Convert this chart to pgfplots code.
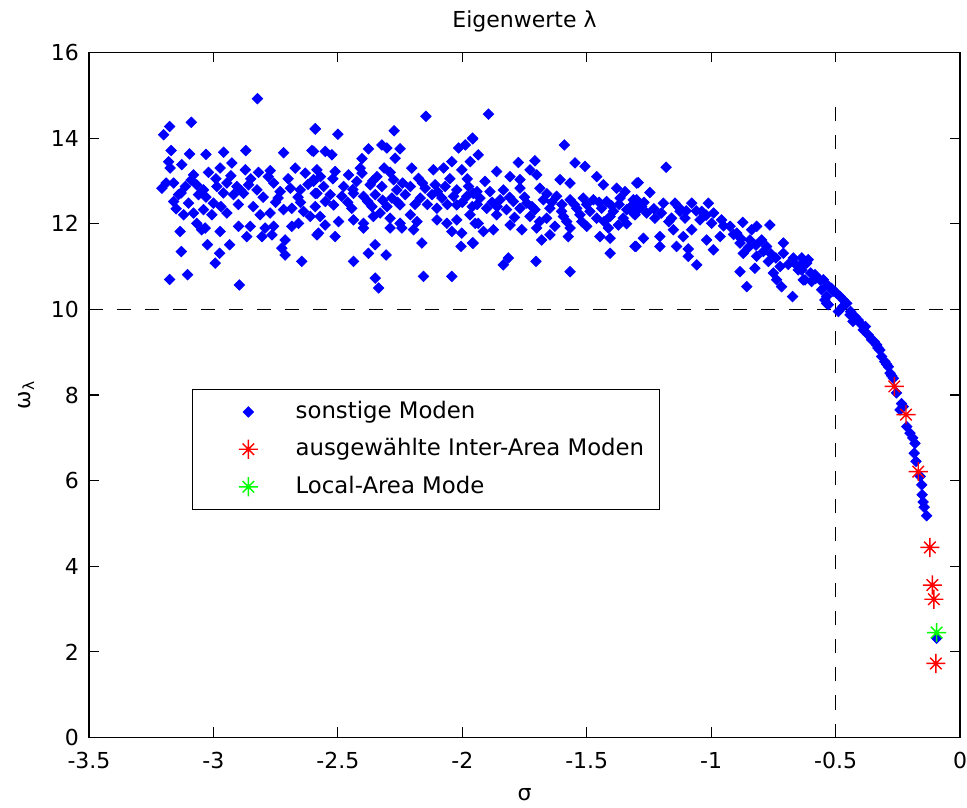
\documentclass[border=0pt]{standalone}
\usepackage{fontspec}
\setmainfont{DejaVu Sans}
\usepackage{pgfplots}
\usepackage{pgfplotstable}
\pgfplotsset{compat=1.18}
\usetikzlibrary{calc}

\pgfdeclareplotmark{mdiam}{%
  \pgfpathmoveto{\pgfqpoint{0pt}{\pgfplotmarksize}}%
  \pgfpathlineto{\pgfqpoint{\pgfplotmarksize}{0pt}}%
  \pgfpathlineto{\pgfqpoint{0pt}{-\pgfplotmarksize}}%
  \pgfpathlineto{\pgfqpoint{-\pgfplotmarksize}{0pt}}%
  \pgfpathclose
  \pgfusepathqfillstroke}
\pgfdeclareplotmark{mstar}{%
  \pgfpathmoveto{\pgfqpoint{-\pgfplotmarksize}{0pt}}\pgfpathlineto{\pgfqpoint{\pgfplotmarksize}{0pt}}%
  \pgfpathmoveto{\pgfqpoint{0pt}{-\pgfplotmarksize}}\pgfpathlineto{\pgfqpoint{0pt}{\pgfplotmarksize}}%
  \pgfpathmoveto{\pgfqpoint{-.6\pgfplotmarksize}{-.6\pgfplotmarksize}}\pgfpathlineto{\pgfqpoint{.6\pgfplotmarksize}{.6\pgfplotmarksize}}%
  \pgfpathmoveto{\pgfqpoint{-.6\pgfplotmarksize}{.6\pgfplotmarksize}}\pgfpathlineto{\pgfqpoint{.6\pgfplotmarksize}{-.6\pgfplotmarksize}}%
  \pgfusepathqstroke}

\definecolor{mblue}{RGB}{0,0,255}
\definecolor{mred}{RGB}{255,0,0}
\definecolor{mgreen}{RGB}{0,255,0}

\pgfplotstableread{
x y
-2.823 14.92
-3.176 14.27
-3.200 14.08
-3.089 14.37
-2.591 14.22
-3.170 13.71
-3.096 13.63
-3.030 13.62
-2.959 13.67
-2.870 13.71
-2.718 13.66
-2.604 13.71
-3.180 13.45
-3.174 13.30
-3.127 13.38
-3.080 13.14
-3.020 13.20
-2.973 13.30
-2.926 13.42
-2.872 13.26
-2.819 13.20
-2.772 13.24
-2.671 13.30
-2.631 13.18
-3.207 12.83
-3.160 12.95
-3.113 12.87
-3.067 12.91
-3.040 12.79
-2.986 12.87
-2.946 12.95
-2.906 12.87
-2.859 12.91
-2.825 12.79
-2.919 12.68
-2.879 12.71
-2.758 12.95
-2.732 12.75
-2.691 12.83
-2.651 12.79
-2.598 13.03
-2.591 12.71
-3.140 12.68
-3.160 12.52
-3.100 12.48
-3.060 12.68
-3.000 12.48
-3.120 12.21
-3.080 12.25
-3.040 12.33
-3.006 12.21
-2.946 12.25
-2.812 12.21
-2.772 12.25
-2.718 12.33
-2.685 12.36
-2.638 12.29
-2.611 12.17
-3.067 12.01
-3.047 11.86
-3.134 11.82
-3.033 11.90
-2.973 11.82
-2.899 11.94
-2.852 11.94
-2.792 11.90
-2.758 11.94
-2.685 11.94
-2.658 12.01
-2.584 11.74
-2.866 11.70
-2.805 11.70
-2.765 11.74
-2.712 11.62
-3.024 11.51
-2.935 11.51
-3.129 11.35
-2.975 11.31
-2.993 11.08
-2.725 11.43
-2.712 11.27
-2.645 11.12
-3.176 10.70
-3.104 10.81
-2.896 10.57
-2.591 14.21
-2.500 14.09
-2.274 14.17
-2.146 14.51
-2.377 13.75
-2.403 13.52
-2.323 13.84
-2.303 13.77
-2.250 13.75
-2.270 13.53
-2.598 13.69
-2.551 13.69
-2.524 13.61
-2.015 13.77
-1.988 13.84
-1.959 14.00
-1.968 13.45
-2.042 13.45
-2.314 13.30
-2.203 13.30
-2.116 13.26
-2.075 13.30
-2.002 13.26
-2.584 13.26
-2.511 13.22
-2.457 13.14
-2.403 13.18
-2.343 13.10
-2.276 13.03
-2.176 13.06
-2.598 12.99
-2.557 12.87
-2.477 12.87
-2.424 12.99
-2.370 12.91
-2.323 12.87
-2.263 12.79
-2.209 12.87
-2.149 12.83
-2.109 12.91
-2.069 12.87
-2.022 12.79
-1.975 12.87
-1.941 12.75
-2.584 12.71
-2.531 12.68
-2.484 12.64
-2.437 12.71
-2.397 12.64
-2.350 12.68
-2.283 12.60
-2.229 12.68
-2.169 12.60
-2.122 12.68
-2.082 12.60
-2.035 12.64
-1.982 12.64
-2.591 12.40
-2.517 12.44
-2.444 12.36
-2.363 12.40
-2.303 12.40
-2.250 12.44
-2.102 12.36
-2.022 12.44
-2.571 12.17
-2.497 12.05
-2.437 12.09
-2.397 12.01
-2.357 12.17
-2.330 12.25
-2.290 12.13
-2.250 12.01
-2.209 12.21
-2.182 12.05
-2.102 12.09
-2.062 12.01
-2.022 12.09
-1.948 12.01
-2.551 11.97
-2.290 11.90
-2.243 11.90
-2.196 11.86
-2.042 11.82
-2.002 11.78
-2.578 11.78
-2.511 11.70
-2.397 11.90
-2.162 11.55
-2.005 11.47
-1.959 11.55
-2.350 11.51
-2.377 11.31
-2.306 11.27
-2.437 11.12
-2.350 10.73
-2.336 10.50
-2.156 10.77
-2.042 10.77
-1.895 14.56
-1.958 13.98
-1.590 13.84
-1.936 13.61
-1.775 13.43
-1.708 13.47
-1.728 13.26
-1.547 13.42
-1.507 13.34
-1.862 13.22
-1.808 13.10
-1.701 13.14
-1.607 13.03
-1.460 13.10
-1.909 12.99
-1.768 13.03
-1.567 12.95
-1.433 12.91
-1.299 12.95
-1.956 12.71
-1.889 12.75
-1.835 12.79
-1.768 12.83
-1.688 12.83
-1.380 12.83
-1.346 12.75
-1.929 12.60
-1.848 12.56
-1.795 12.52
-1.741 12.48
-1.674 12.56
-1.621 12.64
-1.567 12.56
-1.514 12.60
-1.473 12.56
-1.420 12.52
-1.366 12.60
-1.313 12.56
-1.902 12.36
-1.822 12.33
-1.768 12.36
-1.708 12.33
-1.648 12.36
-1.601 12.29
-1.540 12.36
-1.487 12.29
-1.440 12.36
-1.393 12.29
-1.339 12.33
-1.969 12.21
-1.862 12.21
-1.728 12.17
-1.661 12.13
-1.594 12.17
-1.527 12.21
-1.460 12.13
-1.406 12.17
-1.353 12.13
-1.306 12.21
-1.936 12.01
-1.808 11.97
-1.761 11.86
-1.701 11.90
-1.628 11.94
-1.567 11.90
-1.500 11.94
-1.413 11.90
-1.373 11.97
-1.915 11.82
-1.875 11.86
-1.648 11.74
-1.574 11.70
-1.447 11.70
-1.406 11.66
-1.681 11.62
-1.956 11.55
-1.306 11.47
-1.406 11.31
-1.815 11.20
-1.835 11.04
-1.704 11.12
-1.567 10.88
-1.181 13.32
-1.293 12.96
-1.246 12.73
-1.299 12.56
-1.279 12.40
-1.313 12.25
-1.259 12.25
-1.226 12.13
-1.192 12.48
-1.145 12.48
-1.125 12.29
-1.078 12.48
-1.011 12.48
-1.038 12.29
-1.159 12.13
-1.105 12.13
-1.045 12.09
-0.998 12.01
-0.958 12.09
-0.924 11.94
-1.152 11.86
-1.078 11.86
-1.272 11.66
-1.206 11.70
-1.112 11.70
-1.018 11.62
-0.964 11.70
-0.897 11.78
-0.873 12.03
-0.837 11.86
-0.817 11.94
-0.764 11.97
-1.302 11.47
-1.206 11.47
-1.139 11.47
-1.092 11.41
-0.884 11.55
-0.844 11.62
-0.797 11.62
-0.777 11.47
-1.092 11.24
-0.991 11.39
-0.871 11.31
-0.817 11.24
-0.770 11.12
-0.710 11.55
-0.710 11.31
-0.670 11.20
-0.636 11.20
-0.616 11.08
-1.058 11.04
-0.884 10.88
-0.824 10.96
-0.750 10.85
-0.723 11.00
-0.650 10.92
-0.630 10.69
-0.583 10.81
-0.549 10.69
-0.857 10.53
-0.717 10.53
-0.673 10.30
-0.556 10.46
-0.536 10.30
-0.536 10.14
-0.596 10.65
-0.737 10.69
-0.630 11.08
-0.623 10.69
-0.610 11.16
-0.636 10.92
-0.563 10.69
-0.516 10.49
-0.496 10.38
-0.482 10.30
-0.469 10.22
-0.455 10.14
-0.543 10.22
-0.529 10.11
-0.489 9.95
-0.442 9.87
-0.422 9.83
-0.409 9.75
-0.402 9.68
-0.389 9.52
-0.368 9.40
-0.355 9.29
-0.335 9.17
-0.322 9.05
-0.315 8.90
-0.302 8.78
-0.288 8.66
-0.281 8.51
-0.268 8.39
-0.228 7.73
-0.241 7.65
-0.214 7.26
-0.201 7.11
-0.181 6.87
-0.184 6.64
-0.177 6.45
-0.154 5.90
-0.152 5.67
-0.144 5.38
-0.134 5.18
-0.094 2.32
-3.19 12.95
-3.13 12.72
-3.09 13.02
-3.03 12.62
-2.99 13.05
-2.96 12.72
-2.93 13.12
-2.89 12.78
-2.85 13.05
-2.80 12.62
-2.78 13.10
-2.74 12.60
-2.70 13.05
-2.66 12.62
-2.62 12.92
-2.57 13.10
-3.15 12.35
-2.97 12.40
-2.90 12.45
-2.84 12.40
-2.75 12.50
-2.65 12.50
-2.55 12.52
-2.52 13.05
-2.46 12.50
-2.44 12.80
-2.41 13.30
-2.38 12.52
-2.36 13.00
-2.32 12.55
-2.29 13.20
-2.26 12.50
-2.24 12.95
-2.19 12.45
-2.16 12.95
-2.14 12.45
-2.10 12.75
-2.06 12.45
-2.05 13.05
-2.00 12.50
-1.98 13.05
-1.96 12.40
-1.94 12.45
-1.88 12.50
-1.86 12.40
-1.81 12.62
-1.79 12.15
-1.75 12.62
-1.72 12.40
-1.69 12.05
-1.66 12.70
-1.64 12.50
-1.60 12.45
-1.58 12.05
-1.55 12.45
-1.52 12.05
-1.50 12.45
-1.45 12.50
-1.43 12.05
-1.40 12.42
-1.37 12.45
-1.34 12.00
-1.32 12.42
-1.29 12.35
-1.27 12.50
-1.23 12.35
-1.20 12.25
-1.17 12.05
-1.13 12.38
-1.10 12.30
-1.06 12.30
-1.02 12.20
-0.99 12.25
-0.95 11.95
-0.91 11.75
-0.88 11.65
-0.85 11.45
-0.82 11.50
-0.79 11.35
-0.76 11.30
-0.74 11.20
-0.69 11.05
-0.66 11.05
-0.64 10.98
-0.60 10.85
-0.58 10.72
-0.53 10.55
-0.51 10.42
-0.47 10.07
-0.44 9.95
-0.43 9.72
-0.38 9.60
-0.345 9.25
-0.33 9.10
-0.295 8.72
-0.275 8.45
-0.255 8.05
-0.235 7.80
-0.19 7.00
-0.16 6.10
-0.148 5.50
}\sonstige

\pgfplotstableread{
x y
-0.264 8.20
-0.217 7.54
-0.168 6.21
-0.121 4.44
-0.111 3.56
-0.105 3.23
-0.097 1.73
}\interarea

\pgfplotstableread{
x y
-0.094 2.45
}\localarea

\begin{document}
\begin{tikzpicture}
\begin{axis}[
  scale only axis,
  width=435.5pt, height=342.5pt,
  xmin=-3.5, xmax=0, ymin=0, ymax=16,
  xtick={-3.5,-3,-2.5,-2,-1.5,-1,-0.5,0},
  ytick={0,2,4,6,8,10,12,14,16},
  tick align=inside,
  major tick length=5pt,
  tick style={black, line width=0.6pt},
  axis line style={black, line width=0.6pt},
  font=\fontsize{11}{13}\selectfont,
  /pgf/number format/assume math mode=true,
  /pgf/number format/fixed,
  xticklabel style={anchor=base, yshift=-15.25pt},
  yticklabel style={anchor=east, inner sep=0pt, xshift=-4.85pt},
  title={Eigenwerte λ},
  title style={at={(axis description cs:0.5,1)}, anchor=base, yshift=6.25pt, inner sep=0pt},
  xlabel={σ},
  xlabel style={at={(axis description cs:0.5,0)}, anchor=base, yshift=-31.25pt, inner sep=0pt},
  ylabel={ω\textsubscript{λ}},
  ylabel style={at={(axis description cs:-0.0677,0.5)}, anchor=base, inner sep=0pt},
  legend cell align=left,
  legend image code/.code={%
    \path[draw=none,fill=none] (-20.5pt,0pt) -- (23.65pt,0pt);
    \draw[#1] plot coordinates {(0pt,0pt)};},
  legend style={at={(axis cs:-3.087,8.14)}, anchor=north west,
    draw=black, line width=0.6pt, fill=white,
    inner xsep=7.5pt, inner ysep=6.5pt,
    nodes={inner sep=0pt, text height=7.8pt, text depth=1.5pt,
      font=\fontsize{11.4}{13}\selectfont},
    row sep=9.2pt},
]
\addplot[only marks, mark=mdiam, mark size=2.6pt, color=mblue,
  mark options={line width=0.4pt, fill=mblue}] table[x=x,y=y] {\sonstige};
\addlegendentry{sonstige Moden}
\addplot[only marks, mark=mstar, mark size=4.8pt, color=mred,
  mark options={line width=0.7pt}] table[x=x,y=y] {\interarea};
\addlegendentry{ausgewählte Inter-Area Moden}
\addplot[only marks, mark=mstar, mark size=4.8pt, color=mgreen,
  mark options={line width=0.7pt}] table[x=x,y=y] {\localarea};
\addlegendentry{Local-Area Mode}
\addplot[black, line width=0.8pt, dash pattern=on 7pt off 7pt, forget plot]
  coordinates {(-3.5,10) (0,10)};
\addplot[black, line width=0.8pt, dash pattern=on 7pt off 7pt, forget plot]
  coordinates {(-0.5,0) (-0.5,15)};
\end{axis}
\pgfresetboundingbox
\path[use as bounding box] ($(current axis.south west)+(-44.5pt,-34.75pt)$) rectangle ($(current axis.north east)+(3.5pt,26.25pt)$);
\end{tikzpicture}
\end{document}
